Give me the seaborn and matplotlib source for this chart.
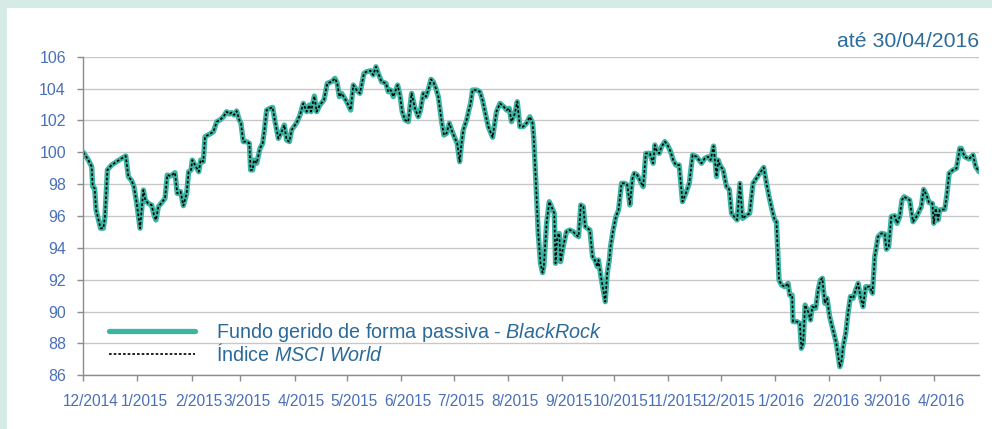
import numpy as np
import pandas as pd
import matplotlib
matplotlib.use("Agg")
import matplotlib.pyplot as plt
import seaborn as sns
from matplotlib.patches import Rectangle
from matplotlib.transforms import ScaledTranslation

# ---------------- data ----------------
data_inicio = "2014-12-01"

# days elapsed since 01/12/2014 for each vertex of the line
dias = [
    0.0, 2.9, 4.8, 5.4, 6.5, 7.3, 9.9, 11.5, 12.4, 13.8, 16.2, 19.1, 22.0, 24.3, 25.8, 27.7,
    29.0, 30.6, 32.5, 34.4, 35.5, 37.2, 39.1, 40.5, 41.6, 43.0, 44.9, 46.8, 48.1, 50.0, 52.5,
    53.8, 55.7, 57.3, 59.2, 60.3, 61.7, 62.4, 64.5, 66.1, 67.2, 68.7, 69.7, 72.5, 74.5, 76.4,
    78.3, 80.2, 82.1, 83.6, 84.9, 86.3, 87.8, 89.3, 90.3, 91.6, 93.5, 95.1, 95.8, 97.0, 97.7,
    99.3, 101.2, 102.7, 103.7, 105.0, 106.9, 108.4, 109.8, 111.7, 113.6, 115.1, 116.4, 118.0,
    119.3, 122.2, 124.1,
    126.0, 127.9, 129.4, 130.4, 132.3, 133.6, 135.5, 137.8, 139.7, 142.2, 144.1, 145.4, 146.6,
    147.9, 150.8, 153.1, 154.6, 156.5, 158.4, 160.7, 162.2, 164.5, 166.0, 167.6, 168.9, 170.8,
    173.3, 174.6, 176.0, 177.5, 180.0, 181.3, 182.6, 184.2, 186.1, 188.0, 189.9, 191.8, 193.1,
    194.7, 196.2, 197.5, 199.1, 200.4, 201.9, 203.3, 205.2, 206.5, 208.0, 209.6, 210.9, 212.4,
    214.1, 215.5, 216.6, 217.6, 219.5, 220.8, 221.8, 222.9, 225.2, 227.1, 228.6, 230.0, 231.9,
    234.4, 236.6, 238.6, 240.8, 242.4, 243.9, 245.2, 247.1, 248.5, 250.0, 251.9, 253.8, 255.7,
    257.3, 258.0, 259.2, 260.5, 261.8, 263.0, 263.7, 265.3, 266.8, 268.1, 269.7, 270.4, 271.4,
    272.5, 273.3, 274.8, 276.7, 278.6, 280.5, 282.1, 283.6, 284.9, 286.3, 287.4, 288.7, 290.1,
    291.6, 292.9, 294.3, 295.0, 296.4, 297.7, 298.9, 300.0, 301.2, 301.9, 303.4, 305.0, 306.5,
    308.2, 310.1, 311.5, 313.0, 314.5, 315.5, 317.2, 319.1, 320.6, 322.1, 324.4, 326.3, 327.3,
    328.2, 329.8, 331.1, 333.0, 334.5, 336.3, 337.8, 339.3, 341.2, 343.1, 345.0, 347.0, 348.9,
    351.2, 354.0, 355.9, 357.8, 359.2, 360.9, 362.6, 363.6, 364.5, 366.4, 368.3, 369.9, 371.2,
    372.7, 374.4, 376.0, 377.5,
    380.1, 381.6, 383.5, 385.4, 387.4, 389.6, 391.2, 392.7, 394.4, 395.9, 396.9, 398.4, 399.8,
    401.7, 403.6, 404.5, 405.9, 406.4, 408.7, 410.3, 411.2, 412.2, 413.3, 415.0, 416.4, 417.5,
    419.4, 420.8, 422.1, 423.2, 424.6, 425.9, 427.4, 429.3, 431.2, 433.2, 434.1, 435.1, 436.6,
    437.9, 439.3, 440.8, 442.3, 443.7, 445.0, 446.5, 448.0, 450.3, 451.9, 453.2, 455.1, 457.0,
    458.9, 459.9, 461.2, 462.7, 464.6, 466.0, 467.5, 468.8, 470.0, 473.2, 475.1, 477.1, 479.9,
    481.2, 482.8, 484.3, 486.2, 487.0, 488.1, 489.5, 490.4, 493.3, 494.6, 495.8, 498.0, 500.0,
    501.9, 502.8, 504.7, 507.2, 509.5, 511.0, 512.9,
]

fundo_blackrock = [
    100.00, 99.51, 99.10, 97.84, 97.74, 96.38, 95.23, 95.23, 95.96, 98.89, 99.20, 99.41, 99.62,
    99.77, 98.47, 98.22, 97.84, 96.79, 95.23, 97.63, 97.00, 96.79, 96.69, 96.06, 95.75, 96.59,
    96.84, 97.11, 98.57, 98.51, 98.72, 97.42, 97.53, 96.65, 97.42, 98.78, 98.89, 99.51, 99.10,
    98.78, 99.51, 99.41, 100.98, 101.15, 101.29, 101.92, 102.03, 102.23, 102.55, 102.40, 102.49,
    102.34, 102.59, 102.03, 101.82, 100.67, 100.67, 100.56, 98.89, 98.89, 99.51, 99.31, 100.25,
    100.56, 101.40, 102.65, 102.76, 102.82, 101.92, 100.87, 101.29, 101.71, 100.77, 100.67,
    101.40, 101.86, 102.34,
    103.07, 102.55, 102.97, 102.55, 103.53, 102.55, 102.97, 103.28, 104.33, 104.43, 104.64,
    104.33, 103.49, 103.70, 103.18, 102.65, 104.22, 103.91, 103.70, 104.95, 105.06, 105.12,
    104.85, 105.37, 104.95, 104.43, 104.33, 103.80, 103.91, 103.49, 104.22, 103.59, 102.55,
    102.03, 101.92, 103.70, 102.76, 102.23, 102.65, 103.70, 103.49, 103.91, 104.58, 104.43,
    104.01, 103.49, 101.92, 101.08, 101.19, 101.82, 101.40, 100.98, 100.56, 99.41, 100.56,
    101.40, 102.03, 102.65, 103.07, 103.91, 103.91, 103.80, 103.28, 102.55, 101.61, 100.94,
    102.55, 103.07, 102.86, 102.65, 102.76, 101.92, 102.44, 103.18, 101.61, 101.61, 101.82,
    102.23,
    101.82, 100.77, 98.05, 94.91, 93.03, 92.44, 92.82, 95.54, 96.90, 96.59, 96.17, 93.03, 94.70,
    94.91, 93.13, 94.08, 95.02, 95.12, 95.02, 94.81, 94.70, 96.69, 96.59, 95.33, 95.23, 95.12,
    93.45, 93.24, 92.82, 93.24, 92.19, 91.36, 90.62, 92.40, 93.24, 94.08, 95.12, 95.96, 96.38,
    98.05, 98.05, 97.95, 96.69, 98.36, 98.68, 98.57, 98.15, 97.84, 99.93, 99.93, 99.31, 100.46,
    100.14, 99.93, 100.35, 100.67, 100.46, 100.04, 99.51, 99.20, 99.20, 96.90, 97.42, 98.05,
    99.83, 99.72, 99.31, 99.62, 99.72, 99.51, 100.39, 98.47, 99.51, 99.20, 98.89, 97.84, 97.67,
    96.17, 95.96, 95.75, 98.05, 95.85,
    96.06, 96.17, 98.05, 98.36, 98.68, 99.05, 98.05, 97.21, 96.38, 95.75, 95.64, 91.98, 91.67,
    91.56, 91.77, 91.04, 91.04, 89.37, 89.37, 89.26, 87.69, 88.01, 90.41, 90.00, 89.47, 90.31,
    90.21, 91.36, 91.98, 92.09, 90.52, 90.83, 89.68, 88.85, 88.01, 86.54, 86.86, 87.80, 88.64,
    89.89, 90.94, 90.83, 91.36, 91.77, 90.94, 90.31, 91.56, 91.56, 91.15, 93.45, 94.70, 94.91,
    94.87, 93.91, 94.08, 95.96, 96.02, 95.54, 95.96, 97.00, 97.21, 97.00, 95.64, 95.96, 96.59,
    97.67, 97.32, 96.84, 96.79, 95.54, 96.48, 95.75, 96.38, 96.42, 97.42, 98.68, 98.89, 98.99,
    100.25, 100.25, 99.72, 99.58, 99.83, 99.10, 98.78,
]

# the MSCI World index is indistinguishable from the fund at this resolution
indice_msci_world = list(fundo_blackrock)

meses = pd.date_range("2014-12-01", "2016-04-01", freq="MS")
rotulos_meses = ["12/2014", "1/2015", "2/2015", "3/2015", "4/2015", "5/2015", "6/2015",
                 "7/2015", "8/2015", "9/2015", "10/2015", "11/2015", "12/2015", "1/2016",
                 "2/2016", "3/2016", "4/2016"]
valores_y = [86, 88, 90, 92, 94, 96, 98, 100, 102, 104, 106]

titulo = "até 30/04/2016"
nome_fundo = r"Fundo gerido de forma passiva - $\mathit{BlackRock}$"
nome_indice = r"Índice $\mathit{MSCI\ World}$"

# ---------------- style ----------------
sns.set_theme(style="white")
plt.rcParams["font.family"] = ["Liberation Sans", "DejaVu Sans"]
plt.rcParams["mathtext.fontset"] = "custom"
plt.rcParams["mathtext.rm"] = "Liberation Sans"
plt.rcParams["mathtext.it"] = "Liberation Sans:italic"
plt.rcParams["mathtext.bf"] = "Liberation Sans:bold"

df = pd.DataFrame({
    "data": pd.Timestamp(data_inicio) + pd.to_timedelta(dias, unit="D"),
    "fundo": fundo_blackrock,
    "indice": indice_msci_world,
})

W, H = 992, 429
fig = plt.figure(figsize=(W / 100, H / 100), dpi=100, facecolor="#d6ebe5")
fig.patches.append(Rectangle((7 / W, 0), 1, 421.5 / H, transform=fig.transFigure,
                             facecolor="white", edgecolor="none", zorder=-1))
ax = fig.add_axes([83.3 / W, 53.7 / H, 895.7 / W, 318.6 / H])
ax.set_facecolor("white")

sns.lineplot(data=df, x="data", y="fundo", ax=ax, color="#3cb4a2", lw=3.8,
             label=nome_fundo, solid_joinstyle="round", solid_capstyle="round")
sns.lineplot(data=df, x="data", y="indice", ax=ax, color="black", lw=1.2,
             linestyle=(0, (1.6, 1.2)), label=nome_indice)

ax.set_xlim(df["data"].iloc[0], df["data"].iloc[-1])
ax.set_ylim(86, 106)
ax.set_yticks(valores_y)
ax.set_xticks(meses)
ax.set_xticklabels(rotulos_meses)
ax.set_xlabel("")
ax.set_ylabel("")

ax.set_axisbelow(True)
ax.yaxis.grid(True, color="#c8c8c8", lw=1)
ax.xaxis.grid(False)
for s in ["top", "right"]:
    ax.spines[s].set_visible(False)
for s in ["left", "bottom"]:
    ax.spines[s].set_color("#8c8c8c")
    ax.spines[s].set_linewidth(1)

tick_col = "#4a70b8"
ax.tick_params(axis="y", direction="out", length=4, width=1, color="#8c8c8c",
               labelcolor=tick_col, labelsize=11.5, pad=8.5, left=True)
ax.tick_params(axis="x", direction="out", length=4, width=1, color="#8c8c8c",
               labelcolor=tick_col, labelsize=11.2, pad=9.5, bottom=True)
off = ScaledTranslation(0.07, 0, fig.dpi_scale_trans)
for lbl in ax.get_xticklabels():
    lbl.set_transform(lbl.get_transform() + off)

ax.set_title(titulo, loc="right", fontsize=15.3, color="#2c6c9c", pad=6.8)

leg = ax.legend(loc="upper left", bbox_to_anchor=(0.029, 0.17), frameon=False,
                fontsize=14.2, handlelength=4.35, handletextpad=1.05, labelspacing=-0.05,
                borderpad=0, borderaxespad=0, labelcolor="#2a6a9a")

fig.savefig("out.png", dpi=100, facecolor=fig.get_facecolor())
